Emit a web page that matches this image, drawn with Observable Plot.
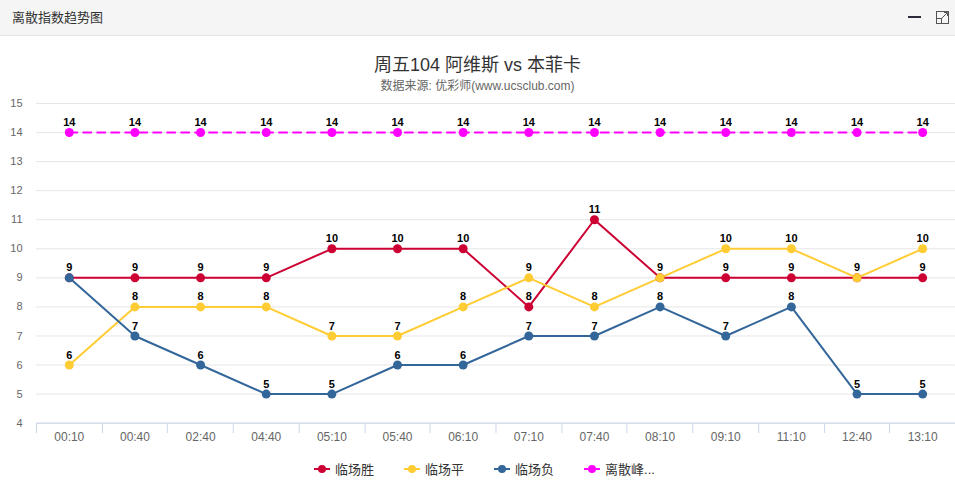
<!DOCTYPE html>
<html><head><meta charset="utf-8">
<script src="https://cdn.jsdelivr.net/npm/d3@7"></script>
<script src="https://cdn.jsdelivr.net/npm/@observablehq/plot@0.6"></script>
<style>
html,body{margin:0;padding:0;background:#fff;overflow:hidden;}
body{width:955px;height:489px;position:relative;font-family:"Liberation Sans",Arial,"Noto Sans CJK SC",sans-serif;}
#hdr{position:absolute;left:0;top:0;width:955px;height:36px;background:#f5f5f5;border-bottom:1px solid #e6e6e6;box-sizing:border-box;}
#hdr .t{position:absolute;left:12px;top:7px;font-size:13px;color:#333;}
#title{position:absolute;left:0;width:955px;top:50px;text-align:center;font-size:18px;color:#333;}
#sub{position:absolute;left:0;width:955px;top:76px;text-align:center;font-size:12px;color:#666;}
#chart{position:absolute;left:0;top:95px;}
#legend{position:absolute;left:314px;top:459px;display:flex;align-items:center;font-size:13px;color:#333;}
#legend .it{display:flex;align-items:center;margin-right:30px;}
#legend .it svg{margin-right:5px;}
</style></head>
<body>
<div id="hdr"><span class="t">离散指数趋势图</span>
<svg style="position:absolute;left:905px;top:8px" width="45" height="20">
<line x1="3" y1="9" x2="16" y2="9" stroke="#2b2b3b" stroke-width="2"/>
<rect x="31.5" y="3.5" width="12" height="12" fill="none" stroke="#555" stroke-width="1"/>
<rect x="31.5" y="10.5" width="5" height="5" fill="#f5f5f5" stroke="#555" stroke-width="1"/>
<line x1="37" y1="10" x2="42" y2="5" stroke="#555" stroke-width="1"/>
<polyline points="39,4.5 42.5,4.5 42.5,8" fill="none" stroke="#555" stroke-width="1"/>
</svg>
</div>
<div id="title">周五104 阿维斯 vs 本菲卡</div>
<div id="sub">数据来源: 优彩师(www.ucsclub.com)</div>
<div id="chart"></div>
<div id="legend"></div>
<script>
const categories = ["00:10","00:40","02:40","04:40","05:10","05:40","06:10","07:10","07:40","08:10","09:10","11:10","12:40","13:10"];
const seriesNames = ["临场胜","临场平","临场负","离散峰值"];
const legendLabels = ["临场胜","临场平","临场负","离散峰..."];
const winValues  = [9,9,9,9,10,10,10,8,11,9,9,9,9,9];
const drawValues = [6,8,8,8,7,7,8,9,8,9,10,10,9,10];
const loseValues = [9,7,6,5,5,6,6,7,7,8,7,8,5,5];
const peakValues = [14,14,14,14,14,14,14,14,14,14,14,14,14,14];
const yTicks = [4,5,6,7,8,9,10,11,12,13,14,15];
const colors = ["#cc0033","#ffcc33","#336699","#ff00ff"];

const allSeries = [winValues, drawValues, loseValues, peakValues];
const data = [];
allSeries.forEach((vals, si) => vals.forEach((v, i) => data.push({series: seriesNames[si], time: categories[i], value: v})));

const W = 956, H = 350, mL = 36, mR = 0, mT = 8, mB = 22;
const plot = Plot.plot({
  width: W, height: H, marginLeft: mL, marginRight: mR, marginTop: mT, marginBottom: mB,
  style: {fontFamily: '"Liberation Sans",Arial,"Noto Sans CJK SC",sans-serif', color: "#666", background: "transparent", overflow: "visible"},
  x: {type: "point", domain: categories, padding: 0.5, round: false, axis: null},
  y: {domain: [4, 15], axis: null},
  color: {domain: seriesNames, range: colors},
  marks: [
    Plot.gridY(yTicks, {stroke: "#e6e6e6", strokeOpacity: 1}),
    Plot.axisY(yTicks, {anchor: "left", tickSize: 0, tickPadding: 14, fontSize: 11, fill: "#666", label: null}),
    Plot.axisX(categories, {anchor: "bottom", tickSize: 0, tickPadding: 9, fontSize: 12, fill: "#666", label: null}),
    Plot.line(data.filter(d => d.series !== "离散峰值"), {x: "time", y: "value", z: "series", stroke: "series", strokeWidth: 2}),
    Plot.line(data.filter(d => d.series === "离散峰值"), {x: "time", y: "value", stroke: "series", strokeWidth: 2, strokeDasharray: "8,6"}),
    Plot.dot(data, {x: "time", y: "value", fill: "series", r: 4.5, stroke: "none"}),
    Plot.text(data, {x: "time", y: "value", text: d => String(d.value), dy: -10, fontSize: 11, fontWeight: "bold", fill: "#000", stroke: "#fff", strokeWidth: 2, paintOrder: "stroke"})
  ]
});
document.getElementById("chart").appendChild(plot);

// category axis line and band-boundary ticks
const sx = plot.scale("x");
const step = (sx.apply(categories[1]) - sx.apply(categories[0]));
const svg = d3.select(plot);
const yBase = H - mB + 0.5;
const g = svg.append("g");
g.append("line").attr("x1", mL).attr("x2", W).attr("y1", yBase).attr("y2", yBase).attr("stroke", "#ccd6eb");
categories.concat([null]).forEach((c, i) => {
  const x = Math.round(sx.apply(categories[0]) - step / 2 + i * step) + 0.5;
  g.append("line").attr("x1", x).attr("x2", x).attr("y1", yBase).attr("y2", yBase + 10).attr("stroke", "#ccd6eb");
});

// legend
const lg = d3.select("#legend");
seriesNames.forEach((s, i) => {
  const it = lg.append("div").attr("class", "it");
  const sv = it.append("svg").attr("width", 16).attr("height", 12);
  sv.append("line").attr("x1", 0).attr("x2", 16).attr("y1", 6).attr("y2", 6).attr("stroke", colors[i]).attr("stroke-width", 2)
    .attr("stroke-dasharray", i === 3 ? "8,6" : null).attr("stroke-dashoffset", i === 3 ? 4 : null);
  sv.append("circle").attr("cx", 8).attr("cy", 6).attr("r", 4).attr("fill", colors[i]);
  it.append("span").text(legendLabels[i]);
});
</script>
</body></html>
